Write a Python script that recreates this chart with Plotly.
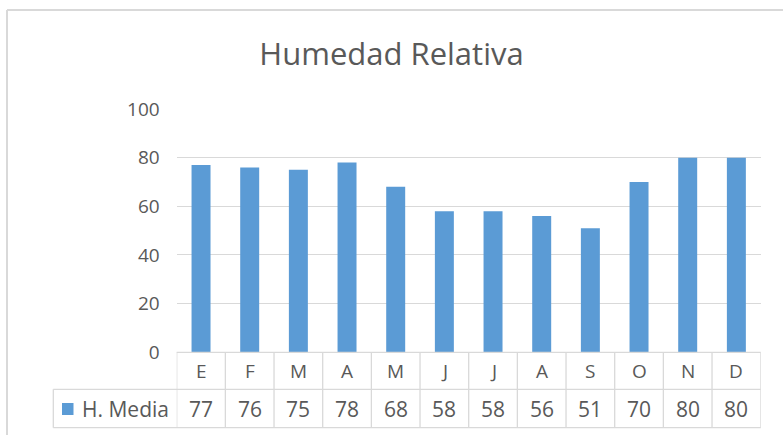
import plotly.graph_objects as go

months = ["E", "F", "M", "A", "M", "J", "J", "A", "S", "O", "N", "D"]
humedad = [77, 76, 75, 78, 68, 58, 58, 56, 51, 70, 80, 80]
series_name = "H. Media"
title_text = "Humedad Relativa"
y_ticks = [0, 20, 40, 60, 80, 100]

W, H = 783, 435
BLUE = "#5B9BD5"
GRID = "#D9D9D9"
TXT = "#595959"
FONT = "Open Sans"

def px(x):
    return x / W

def py(y):
    return 1 - y / H

xpos = list(range(len(months)))

fig = go.Figure()
fig.add_trace(go.Bar(
    x=xpos, y=humedad, marker=dict(color=BLUE, line=dict(width=0)),
    name=series_name, showlegend=False, hoverinfo="y",
))

x_left, x_right = 176.7, 760.7
y_zero, y_hundred = 352.3, 109.0

fig.update_layout(
    width=W, height=H,
    margin=dict(l=0, r=0, t=0, b=0, pad=0, autoexpand=False),
    paper_bgcolor="white", plot_bgcolor="white",
    bargap=0.61,
    xaxis=dict(domain=[px(x_left), px(x_right)], range=[-0.5, len(months) - 0.5],
               showticklabels=False, showgrid=False, zeroline=False, showline=False,
               fixedrange=True, automargin=False),
    yaxis=dict(domain=[py(y_zero), py(y_hundred)], range=[0, 100],
               tickvals=y_ticks, ticktext=[str(v) for v in y_ticks],
               showgrid=True, gridcolor=GRID, gridwidth=1, zeroline=False,
               showline=False, ticks="", ticklabelstandoff=16, automargin=False,
               tickfont=dict(family=FONT, size=19, color=TXT), fixedrange=True),
    title=dict(text=title_text, x=0.5, xanchor="center", xref="paper", yref="paper",
               y=py(54), yanchor="middle", automargin=False,
               font=dict(family=FONT, size=31, color=TXT)),
)

shapes = []
LW = 1.3
# outer chart border (top & left)
shapes.append(dict(type="line", xref="paper", yref="paper", x0=px(7), x1=1, y0=py(10), y1=py(10),
                   line=dict(color=GRID, width=2)))
shapes.append(dict(type="line", xref="paper", yref="paper", x0=px(7), x1=px(7), y0=py(10), y1=0,
                   line=dict(color=GRID, width=2)))

y_top, y_mid, y_bot = 352.3, 389.3, 427.7
x_tab_left = 53.3
# horizontal table lines
shapes.append(dict(type="line", xref="paper", yref="paper", x0=px(x_left), x1=px(x_right),
                   y0=py(y_top), y1=py(y_top), line=dict(color=GRID, width=LW)))
shapes.append(dict(type="line", xref="paper", yref="paper", x0=px(x_tab_left), x1=px(x_right),
                   y0=py(y_mid), y1=py(y_mid), line=dict(color=GRID, width=LW)))
shapes.append(dict(type="line", xref="paper", yref="paper", x0=px(x_tab_left), x1=px(x_right),
                   y0=py(y_bot), y1=py(y_bot), line=dict(color=GRID, width=LW)))
# left table edge
shapes.append(dict(type="line", xref="paper", yref="paper", x0=px(x_tab_left), x1=px(x_tab_left),
                   y0=py(y_mid), y1=py(y_bot), line=dict(color=GRID, width=LW)))
# column boundaries
for i in range(len(months) + 1):
    shapes.append(dict(type="line", xref="x", yref="paper", x0=i - 0.5, x1=i - 0.5,
                       y0=py(y_top), y1=py(y_bot), line=dict(color=GRID, width=LW)))
# legend key
shapes.append(dict(type="rect", xref="paper", yref="paper", x0=px(62), x1=px(73.5),
                   y0=py(415), y1=py(403), fillcolor=BLUE, line=dict(width=0)))

annotations = []
for i, (m, v) in enumerate(zip(months, humedad)):
    annotations.append(dict(x=i, y=py((y_top + y_mid) / 2), xref="x", yref="paper", text=m,
                            showarrow=False, xanchor="center", yanchor="middle",
                            font=dict(family=FONT, size=19, color=TXT)))
    annotations.append(dict(x=i, y=py((y_mid + y_bot) / 2), xref="x", yref="paper", text=str(v),
                            showarrow=False, xanchor="center", yanchor="middle",
                            font=dict(family=FONT, size=21, color=TXT)))
annotations.append(dict(x=px(80), y=py((y_mid + y_bot) / 2), xref="paper", yref="paper", text=series_name,
                        showarrow=False, xanchor="left", yanchor="middle",
                        font=dict(family=FONT, size=21, color=TXT)))

fig.update_layout(shapes=shapes, annotations=annotations)
fig.write_html("out.html", config={"displayModeBar": False},
               post_script="document.body.style.margin='0';document.body.style.overflow='hidden';")
